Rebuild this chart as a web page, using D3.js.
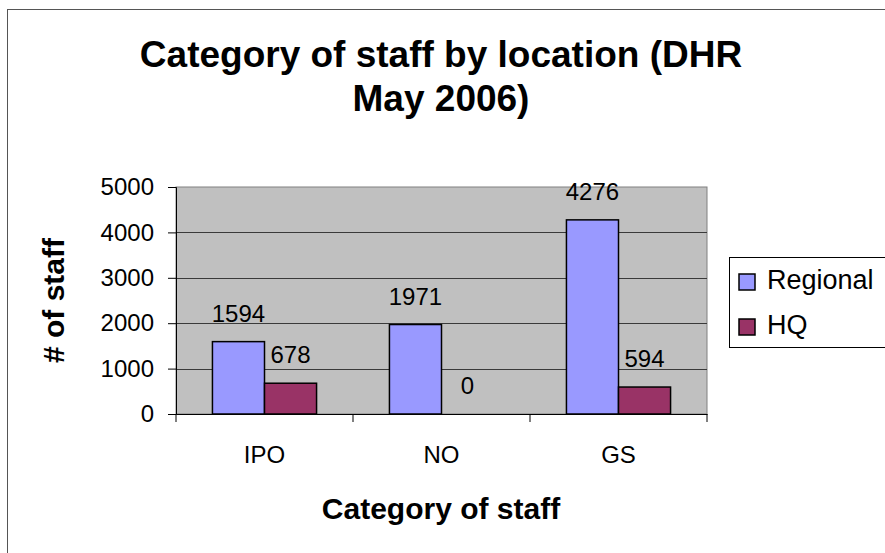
<!DOCTYPE html>
<html>
<head>
<meta charset="utf-8">
<script src="https://cdn.jsdelivr.net/npm/d3@7"></script>
<style>
  html, body { margin: 0; padding: 0; background: #fff; }
  svg { display: block; font-family: "Liberation Sans", Arial, sans-serif; }
</style>
</head>
<body>
<div id="chart"></div>
<script>
// données
const categories = ['IPO', 'NO', 'GS'];
const series = ['Regional', 'HQ'];
const regional = [1594, 1971, 4276];
const hq = [678, 0, 594];
const yTicks = [0, 1000, 2000, 3000, 4000, 5000];
const colors = ['#9999FF', '#993366'];

const width = 885, height = 553;
const plot = { left: 176, right: 707, top: 187, bottom: 414 };

const data = categories.map((c, i) => ({ category: c, Regional: regional[i], HQ: hq[i] }));

const svg = d3.select('#chart')
    .append('svg')
    .attr('width', width)
    .attr('height', height);

// cadre extérieur
svg.append('rect')
    .attr('x', 7.5).attr('y', 9.5)
    .attr('width', 900).attr('height', 560)
    .attr('fill', '#fff')
    .attr('stroke', '#555');

// Scales
const x0 = d3.scaleBand()
    .domain(categories)
    .range([plot.left, plot.right])
    .padding(0);

const x1 = d3.scaleBand()
    .domain(series)
    .range([0, x0.bandwidth()])
    .paddingInner(0)
    .paddingOuter(0.7);

const y = d3.scaleLinear()
    .domain([0, 5000])
    .range([plot.bottom, plot.top]);

const color = d3.scaleOrdinal().domain(series).range(colors);

// zone de tracé
svg.append('rect')
    .attr('x', plot.left).attr('y', plot.top)
    .attr('width', plot.right - plot.left)
    .attr('height', plot.bottom - plot.top)
    .attr('fill', '#C0C0C0')
    .attr('stroke', '#808080');

// grille
svg.append('g')
    .selectAll('line')
    .data(yTicks.filter(t => t > 0 && t < 5000))
    .enter()
    .append('line')
    .attr('x1', plot.left).attr('x2', plot.right)
    .attr('y1', d => Math.round(y(d)) + 0.5)
    .attr('y2', d => Math.round(y(d)) + 0.5)
    .attr('stroke', '#3a3a3a');

// Barres
const groups = svg.selectAll('g.cat')
    .data(data)
    .enter()
    .append('g')
    .attr('class', 'cat')
    .attr('transform', d => `translate(${x0(d.category)},0)`);

groups.selectAll('rect')
    .data(d => series.map(k => ({ key: k, value: d[k] })))
    .enter()
    .append('rect')
    .attr('x', d => x1(d.key))
    .attr('y', d => y(d.value))
    .attr('width', x1.bandwidth())
    .attr('height', d => y(0) - y(d.value))
    .attr('fill', d => color(d.key))
    .attr('stroke', d => d.value > 0 ? '#000' : 'none')
    .attr('stroke-width', 1.5);

// étiquettes de valeurs
groups.selectAll('text')
    .data(d => series.map(k => ({ key: k, value: d[k] })))
    .enter()
    .append('text')
    .attr('x', d => x1(d.key) + x1.bandwidth() / 2)
    .attr('y', d => y(d.value) - 20)
    .attr('text-anchor', 'middle')
    .style('font-size', '24px')
    .attr('fill', '#000')
    .text(d => d.value);

// Axes
const yAxis = svg.append('g')
    .attr('transform', `translate(${plot.left},0)`)
    .call(d3.axisLeft(y).tickValues(yTicks).tickSize(8).tickPadding(14).tickFormat(d3.format('d')));
yAxis.select('.domain').attr('stroke', '#000');
yAxis.selectAll('line').attr('stroke', '#000');
yAxis.selectAll('text').style('font-size', '24px').attr('fill', '#000').attr('font-family', null);

const xAxis = svg.append('g')
    .attr('transform', `translate(0,${plot.bottom})`)
    .call(d3.axisBottom(x0).tickSize(0).tickPadding(32));
xAxis.select('.domain').attr('stroke', '#000');
xAxis.selectAll('text').style('font-size', '24px').attr('fill', '#000').attr('font-family', null);
xAxis.selectAll('line.sep')
    .data(d3.range(categories.length + 1))
    .enter()
    .append('line')
    .attr('class', 'sep')
    .attr('x1', i => i < categories.length ? x0(categories[i]) : plot.right)
    .attr('x2', i => i < categories.length ? x0(categories[i]) : plot.right)
    .attr('y1', 0).attr('y2', 8)
    .attr('stroke', '#000');

// titres
svg.append('text')
    .attr('x', 441).attr('y', 67)
    .attr('text-anchor', 'middle')
    .style('font-size', '37px').style('font-weight', 'bold')
    .text('Category of staff by location (DHR');
svg.append('text')
    .attr('x', 441).attr('y', 111)
    .attr('text-anchor', 'middle')
    .style('font-size', '37px').style('font-weight', 'bold')
    .text('May 2006)');

svg.append('text')
    .attr('x', 441).attr('y', 519)
    .attr('text-anchor', 'middle')
    .style('font-size', '30px').style('font-weight', 'bold')
    .text('Category of staff');

svg.append('text')
    .attr('transform', `translate(64,${(plot.top + plot.bottom) / 2}) rotate(-90)`)
    .attr('text-anchor', 'middle')
    .style('font-size', '30px').style('font-weight', 'bold')
    .text('# of staff');

// Légende
const legend = svg.append('g').attr('transform', 'translate(729,257)');
legend.append('rect')
    .attr('x', 0.5).attr('y', 0.5)
    .attr('width', 170).attr('height', 90)
    .attr('fill', '#fff')
    .attr('stroke', '#000');
const items = legend.selectAll('g.item')
    .data(series)
    .enter()
    .append('g')
    .attr('class', 'item')
    .attr('transform', (d, i) => `translate(10,${17 + i * 45})`);
items.append('rect')
    .attr('width', 16).attr('height', 16)
    .attr('fill', d => color(d))
    .attr('stroke', '#000')
    .attr('stroke-width', 1.5);
items.append('text')
    .attr('x', 28).attr('y', 15)
    .style('font-size', '27px')
    .text(d => d);
</script>
</body>
</html>
